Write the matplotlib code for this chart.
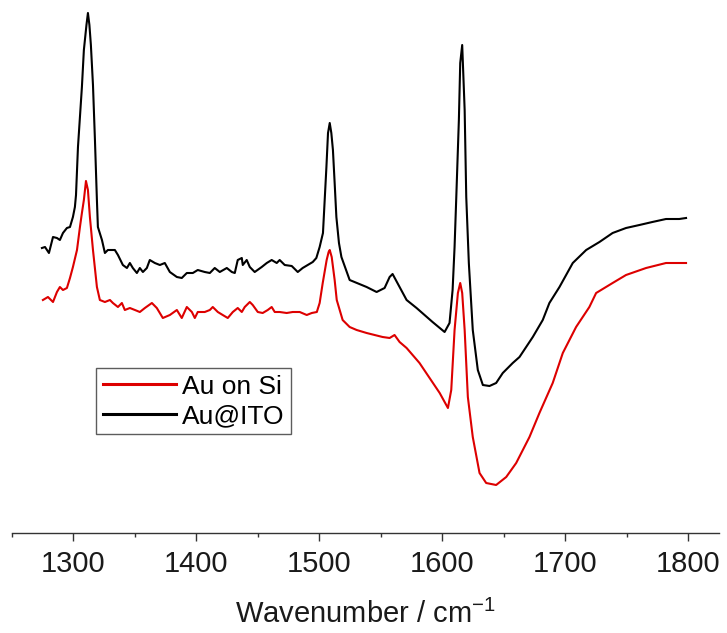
"""
SERS spectra of Au on Si vs Au@ITO (1270-1800 cm-1).
Single panel, no y axis, offset traces.
"""

import matplotlib
matplotlib.use("Agg")
import matplotlib.pyplot as plt
from matplotlib.ticker import MultipleLocator

plt.rcParams['font.family'] = ['Liberation Sans', 'DejaVu Sans']

# ── Data (intensity in arbitrary units) ────
wn_ito = [
    1274.5, 1277.0, 1280.2, 1283.5, 1286.7, 1289.1, 1291.6, 1294.8, 1297.3, 1299.7,
    1301.3, 1302.2, 1303.8, 1305.4, 1307.0, 1308.6, 1310.7, 1311.9, 1313.1, 1314.3,
    1316.0, 1317.6, 1319.2, 1320.0, 1323.3, 1325.7, 1328.1, 1333.8, 1336.3, 1340.3,
    1343.6, 1346.0, 1348.4, 1351.7, 1354.1, 1356.6, 1359.8, 1362.2, 1366.3, 1370.4,
    1374.4, 1378.5, 1384.2, 1388.2, 1392.3, 1397.2, 1401.2, 1406.9, 1411.0, 1415.0,
    1419.1, 1424.8, 1428.9, 1431.3, 1433.7, 1437.0, 1437.8, 1441.0, 1443.5, 1447.5,
    1453.2, 1457.3, 1461.3, 1465.4, 1467.8, 1471.9, 1477.6, 1482.5, 1486.5, 1490.6,
    1494.7, 1497.6, 1500.3, 1503.0, 1504.4, 1505.8, 1507.1, 1508.5, 1509.8, 1511.1,
    1512.5, 1513.9, 1516.0, 1518.0, 1524.7, 1538.5, 1546.6, 1553.1, 1557.2, 1559.6,
    1565.3, 1571.0, 1579.1, 1592.1, 1601.9, 1605.9, 1608.4, 1610.0, 1611.4, 1613.5,
    1614.6, 1616.2, 1618.2, 1619.5, 1621.6, 1624.8, 1628.9, 1633.0, 1638.4, 1643.8,
    1649.2, 1657.3, 1662.8, 1673.6, 1681.7, 1687.1, 1695.3, 1706.1, 1717.0, 1727.8,
    1738.5, 1749.4, 1760.3, 1770.8, 1781.9, 1792.7, 1798.2,
]
int_ito = [
    285, 286, 280, 296, 295, 293, 300, 305, 306, 316,
    326, 338, 386, 416, 446, 483, 508, 520, 508, 488,
    448, 393, 333, 306, 293, 280, 283, 283, 278, 268,
    265, 270, 265, 260, 265, 261, 265, 273, 270, 268,
    270, 261, 256, 255, 260, 260, 263, 261, 260, 265,
    261, 265, 261, 260, 273, 275, 268, 273, 266, 261,
    266, 270, 273, 270, 273, 268, 267, 261, 265, 268,
    271, 275, 286, 300, 333, 366, 400, 410, 400, 383,
    350, 316, 290, 276, 253, 246, 241, 245, 256, 259,
    246, 233, 225, 211, 201, 210, 243, 286, 336, 413,
    470, 488, 423, 336, 270, 203, 163, 148, 147, 150,
    160, 170, 176, 196, 213, 230, 246, 270, 283, 291,
    300, 305, 308, 311, 314, 314, 315,
]

wn_si = [
    1275.3, 1279.4, 1283.5, 1286.7, 1289.1, 1291.6, 1294.8, 1297.3, 1299.7, 1303.0,
    1305.4, 1307.0, 1308.6, 1310.3, 1311.9, 1313.5, 1316.0, 1319.2, 1321.6, 1325.7,
    1329.8, 1332.2, 1336.3, 1339.5, 1341.9, 1346.0, 1350.1, 1354.1, 1358.2, 1363.9,
    1367.9, 1372.8, 1378.5, 1384.2, 1388.2, 1392.3, 1396.4, 1398.8, 1401.2, 1406.9,
    1411.0, 1413.4, 1417.5, 1421.5, 1425.6, 1429.7, 1433.7, 1437.0, 1439.4, 1443.5,
    1445.9, 1450.0, 1454.0, 1458.1, 1461.3, 1463.8, 1467.8, 1473.5, 1478.4, 1484.1,
    1489.8, 1493.9, 1498.0, 1500.3, 1502.8, 1506.0, 1507.6, 1508.5, 1510.1, 1512.5,
    1514.2, 1519.0, 1524.7, 1530.4, 1538.5, 1545.0, 1551.5, 1557.2, 1561.2, 1565.3,
    1571.0, 1581.5, 1589.7, 1597.9, 1604.6, 1607.3, 1610.0, 1612.7, 1614.6, 1616.2,
    1618.2, 1620.8, 1624.8, 1630.3, 1635.7, 1643.8, 1652.0, 1660.1, 1670.9, 1679.0,
    1689.8, 1698.0, 1708.8, 1719.6, 1725.1, 1738.5, 1749.4, 1765.7, 1781.9, 1798.2,
]
int_si = [
    233, 236, 231, 241, 246, 243, 245, 255, 266, 283,
    306, 320, 333, 352, 343, 316, 283, 246, 233, 231,
    233, 230, 226, 230, 223, 225, 223, 221, 225, 230,
    225, 215, 218, 223, 215, 226, 221, 215, 221, 221,
    223, 226, 221, 218, 215, 221, 225, 221, 226, 231,
    228, 221, 220, 223, 226, 221, 221, 220, 221, 221,
    218, 220, 221, 230, 250, 273, 281, 283, 276, 253,
    233, 213, 206, 203, 200, 198, 196, 195, 198, 191,
    185, 170, 155, 140, 125, 143, 203, 240, 250, 240,
    203, 136, 96, 60, 50, 48, 56, 70, 96, 120,
    150, 180, 206, 226, 240, 250, 258, 265, 270, 270,
]

labels = ['Au on Si', 'Au@ITO']
colors = ['#dd0000', '#000000']

# ── Figure ─────────────────────────────────────────────────────────
fig = plt.figure(figsize=(7.27, 6.33), dpi=100)
ax = fig.add_axes([11.8 / 727, 100 / 633, 707.2 / 727, 533 / 633])

ax.plot(wn_si, int_si, color=colors[0], linewidth=1.5, label=labels[0])
ax.plot(wn_ito, int_ito, color=colors[1], linewidth=1.5, label=labels[1])

ax.set_xlim(1250, 1825)
ax.set_ylim(0, 533)

for side in ('top', 'right', 'left'):
    ax.spines[side].set_visible(False)
ax.spines['bottom'].set_color('#333333')
ax.spines['bottom'].set_linewidth(1.0)

ax.set_yticks([])
ax.xaxis.set_major_locator(MultipleLocator(100))
ax.xaxis.set_minor_locator(MultipleLocator(50))
ax.tick_params(axis='x', which='major', direction='out', length=6,
               width=1.0, color='#333333', pad=6, labelsize=21,
               labelcolor='#1a1a1a')
ax.tick_params(axis='x', which='minor', direction='out', length=3,
               width=1.0, color='#333333')

ax.set_xlabel('Wavenumber / cm$^{\\mathregular{-1}}$', fontsize=21,
              color='#1a1a1a', labelpad=16)

leg = ax.legend(loc='upper left', bbox_to_anchor=(96 / 727, 1 - 368 / 633),
                bbox_transform=fig.transFigure, fontsize=19,
                frameon=True, fancybox=False, edgecolor='#333333',
                borderpad=0.25, labelspacing=0.2, handlelength=2.8,
                handletextpad=0.2, borderaxespad=0)
leg.get_frame().set_linewidth(1.0)
for ln in leg.get_lines():
    ln.set_linewidth(2.2)

fig.savefig('out.png', dpi=100)
